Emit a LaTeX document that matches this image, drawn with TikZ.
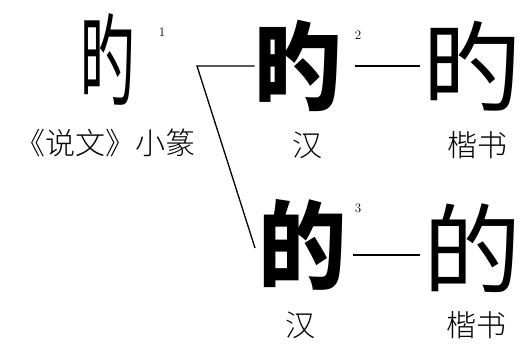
\documentclass[tikz,border=0pt]{standalone}
\usepackage{fontspec}
\newfontfamily\cjk{Noto Sans CJK SC}
\newfontfamily\cjkl{Noto Sans CJK SC Light}
\newfontfamily\cjkbk{Noto Sans CJK SC Black}
\begin{document}
\begin{tikzpicture}[x=1pt,y=-1pt,
  bigkai/.style={inner sep=0pt,font=\cjk\fontsize{98}{98}\selectfont},
  bighan/.style={inner sep=0pt,font=\cjkbk\fontsize{96}{96}\selectfont,xscale=0.92},
  seal/.style={inner sep=0pt,font=\cjk\fontsize{100}{100}\selectfont,xscale=0.55},
  lbl/.style={inner sep=0pt,font=\cjkl\fontsize{30}{30}\selectfont},
  sup/.style={inner sep=0pt,font=\fontsize{13}{13}\selectfont},
  conn/.style={line width=1.3pt}]
\useasboundingbox (0,0) rectangle (522,347);
\fill[white] (0,0) rectangle (522,347);
% seal
\node[seal] (seal) at (108,60) {旳};
\node[sup] (s1) at (162,32) {1};
\node[lbl] (lseal) at (106,143) {《说文》小篆};
% top row
\node[bighan] (hanA) at (299,66) {旳};
\node[sup] (s2) at (358,35) {2};
\node[bigkai] (kaiA) at (472,66) {旳};
\node[lbl] (lhanA) at (307,145) {汉};
\node[lbl] (lkaiA) at (477,145) {楷书};
% bottom row
\node[bighan] (hanB) at (303,245) {的};
\node[sup] (s3) at (358,208) {3};
\node[bigkai] (kaiB) at (472,248) {的};
\node[lbl] (lhanB) at (300,325) {汉};
\node[lbl] (lkaiB) at (476,325) {楷书};
% connectors
\coordinate (brk) at (197,66);
\coordinate (endB) at (255,248);
\coordinate (aL) at (355,66);
\coordinate (aR) at (420,66);
\coordinate (bL) at (353,255);
\coordinate (bR) at (420,255);
\draw[conn] (hanA.west |- brk) -- (brk) -- (endB);
\draw[conn] (aL) -- (aR);
\draw[conn] (bL) -- (bR);
\end{tikzpicture}
\end{document}
